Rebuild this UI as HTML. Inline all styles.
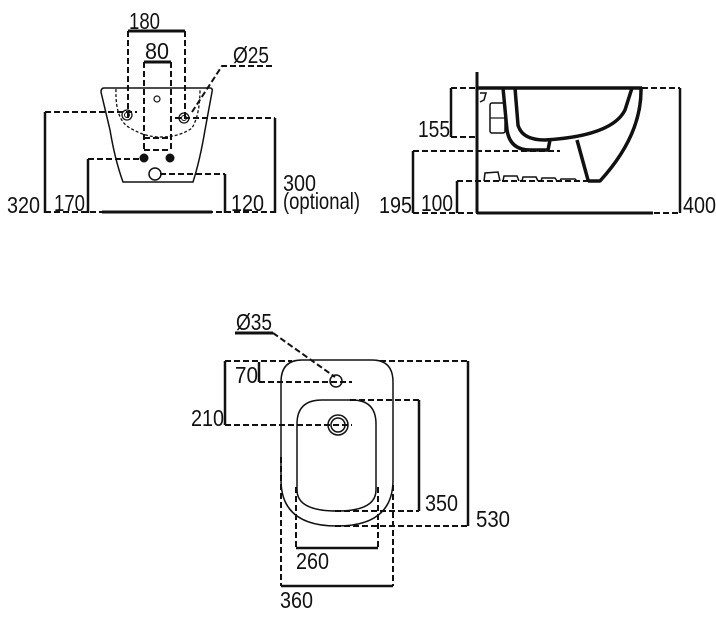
<!DOCTYPE html>
<html><head><meta charset="utf-8"><style>
html,body{margin:0;padding:0;background:#fff;}
svg{display:block;}
text{font-family:"Liberation Sans",sans-serif;font-size:23px;fill:#111;}
</style></head><body>
<svg width="716" height="619" viewBox="0 0 716 619" xmlns="http://www.w3.org/2000/svg">
<g fill="none" stroke="#111">
<!-- FRONT VIEW -->
<g stroke-width="2" stroke-dasharray="6,3">
 <line x1="128" y1="31" x2="128" y2="120"/><line x1="185" y1="31" x2="185" y2="120"/>
 <line x1="144" y1="62" x2="144" y2="150"/><line x1="171" y1="62" x2="171" y2="150"/>
 <line x1="144" y1="138" x2="171" y2="138"/><line x1="144" y1="150" x2="171" y2="150"/>
 <polyline points="272,66 222,66 192,112"/>
 <line x1="45" y1="112" x2="137" y2="112"/>
 <line x1="175" y1="118" x2="275" y2="118"/>
 <line x1="88" y1="159" x2="143" y2="159"/>
 <line x1="160" y1="174" x2="225" y2="174"/>
 <line x1="45" y1="212" x2="275" y2="212"/>
</g>
<path d="M116,89 Q115,120 130,128 Q145,137 160,137 Q180,137 192,128 Q200,115 200,89" stroke-width="1.3" stroke-dasharray="3,2"/>
<line x1="128" y1="31" x2="185" y2="31" stroke-width="3"/>
<line x1="144" y1="62" x2="171" y2="62" stroke-width="3"/>
<path d="M104,88 L210,88 Q213,88 212,92 L205,130 Q200,160 193,182 L123,182 Q115,160 110,130 L101,92 Q101,88 104,88 Z" stroke-width="1.5"/>
<circle cx="127" cy="115" r="5" stroke-width="1.3"/><circle cx="127" cy="115" r="2.5" stroke-width="1"/>
<circle cx="184" cy="118" r="5" stroke-width="1.3"/><circle cx="184" cy="118" r="2.5" stroke-width="1"/>
<circle cx="157" cy="99" r="3" stroke-width="1.2"/>
<circle cx="144" cy="158" r="4" fill="#111"/><circle cx="170" cy="158" r="4" fill="#111"/>
<circle cx="155" cy="174" r="6" stroke-width="1.5"/>
<g stroke-width="2.5">
 <line x1="45" y1="112" x2="45" y2="213"/><line x1="275" y1="118" x2="275" y2="213"/>
 <line x1="88" y1="159" x2="88" y2="213"/><line x1="225" y1="174" x2="225" y2="213"/>
 <line x1="102" y1="212" x2="212" y2="212" stroke-width="3"/>
</g>
<!-- SIDE VIEW -->
<g stroke-width="2" stroke-dasharray="6,3">
 <line x1="451" y1="88" x2="477" y2="88"/><line x1="451" y1="137" x2="477" y2="137"/>
 <line x1="413" y1="151" x2="560" y2="151"/>
 <line x1="457" y1="181" x2="600" y2="181"/>
 <line x1="642" y1="88" x2="680" y2="88"/>
 <line x1="413" y1="213" x2="477" y2="213"/>
 <line x1="600" y1="213" x2="680" y2="213"/>
</g>
<g stroke-width="2.5">
 <line x1="451" y1="88" x2="451" y2="137"/><line x1="413" y1="151" x2="413" y2="213"/>
 <line x1="457" y1="181" x2="457" y2="213"/><line x1="680" y1="88" x2="680" y2="213"/>
 <line x1="477" y1="72" x2="477" y2="213" stroke-width="3"/>
 <line x1="477" y1="213" x2="653" y2="213" stroke-width="3"/>
 <line x1="477" y1="88" x2="642" y2="88" stroke-width="3.5"/>
</g>
<g stroke-width="3.5" stroke-linejoin="round">
 <path d="M515,88 L518,125 Q522,140 545,140 Q612,136 625,110 L632,88"/>
 <path d="M641,88 Q642,135 600,181 L588,181"/>
 <path d="M503,88 L507,130 Q510,150 530,150 L548,150 L550,140"/>
 <path d="M577,140 L588,180"/>
</g>
<rect x="490" y="103" width="15" height="30" rx="2" stroke-width="1.5"/>
<line x1="490" y1="118" x2="505" y2="118" stroke-width="1.2"/>
<path d="M480,93 L486,93 L484,100 L480,102" stroke-width="1.5"/>
<g stroke-width="1.5">
 <path d="M484,181 L485,173 L498,172 L500,181"/><path d="M503,181 L504,176 L517,176 L519,181"/>
 <path d="M522,181 L523,177 L536,177 L538,181"/><path d="M541,181 L542,178 L555,178 L557,181"/>
 <path d="M560,181 L561,179 L575,179 L577,181"/>
</g>
<!-- PLAN VIEW -->
<g stroke-width="2" stroke-dasharray="6,3">
 <line x1="273" y1="333" x2="335" y2="377"/>
 <line x1="259" y1="382" x2="352" y2="382"/>
 <line x1="225" y1="361" x2="292" y2="361"/>
 <line x1="225" y1="425" x2="352" y2="425"/>
 <line x1="380" y1="361" x2="468" y2="361"/>
 <line x1="335" y1="526" x2="468" y2="526"/>
 <line x1="350" y1="400" x2="419" y2="400"/>
 <line x1="335" y1="511" x2="419" y2="511"/>
 <line x1="296" y1="487" x2="296" y2="548"/><line x1="378" y1="487" x2="378" y2="548"/>
 <line x1="281" y1="457" x2="281" y2="586"/><line x1="393" y1="485" x2="393" y2="586"/>
</g>
<g stroke-width="2.5">
 <line x1="235" y1="333" x2="273" y2="333" stroke-width="3"/>
 <line x1="259" y1="362" x2="259" y2="382"/>
 <line x1="225" y1="361" x2="225" y2="425"/>
 <line x1="468" y1="361" x2="468" y2="526"/>
 <line x1="419" y1="400" x2="419" y2="511"/>
 <line x1="296" y1="548" x2="378" y2="548"/>
 <line x1="281" y1="586" x2="393" y2="586"/>
</g>
<path d="M302,360 L372,360 Q393,360 393,382 L393,480 Q393,526 337,526 Q281,526 281,480 L281,382 Q281,360 302,360 Z" stroke-width="1.5"/>
<path d="M322,400 L352,400 Q376,400 376,424 L376,490 Q376,511 337,511 Q297,511 297,490 L297,424 Q297,400 322,400 Z" stroke-width="1.5"/>
<circle cx="336" cy="381" r="6" stroke-width="1.5"/>
<circle cx="338" cy="425" r="10" stroke-width="1.5"/><circle cx="338" cy="425" r="7" stroke-width="1.5"/>
</g>
<!-- texts -->
<g>
<text x="129" y="29" textLength="31" lengthAdjust="spacingAndGlyphs">180</text>
<text x="145" y="59" textLength="24" lengthAdjust="spacingAndGlyphs">80</text>
<text x="233" y="63" textLength="36" lengthAdjust="spacingAndGlyphs">Ø25</text>
<text x="7" y="213" textLength="33" lengthAdjust="spacingAndGlyphs">320</text>
<text x="54" y="211" textLength="31" lengthAdjust="spacingAndGlyphs">170</text>
<text x="231" y="211" textLength="33" lengthAdjust="spacingAndGlyphs">120</text>
<text x="283" y="191" textLength="33" lengthAdjust="spacingAndGlyphs">300</text>
<text x="283" y="209" textLength="77" lengthAdjust="spacingAndGlyphs">(optional)</text>
<text x="418" y="137" textLength="32" lengthAdjust="spacingAndGlyphs">155</text>
<text x="379" y="213" textLength="33" lengthAdjust="spacingAndGlyphs">195</text>
<text x="421" y="211" textLength="32" lengthAdjust="spacingAndGlyphs">100</text>
<text x="683" y="213" textLength="33" lengthAdjust="spacingAndGlyphs">400</text>
<text x="236" y="330" textLength="36" lengthAdjust="spacingAndGlyphs">Ø35</text>
<text x="235" y="383" textLength="23" lengthAdjust="spacingAndGlyphs">70</text>
<text x="191" y="426" textLength="33" lengthAdjust="spacingAndGlyphs">210</text>
<text x="425" y="511" textLength="33" lengthAdjust="spacingAndGlyphs">350</text>
<text x="476" y="527" textLength="34" lengthAdjust="spacingAndGlyphs">530</text>
<text x="296" y="569" textLength="33" lengthAdjust="spacingAndGlyphs">260</text>
<text x="280" y="608" textLength="33" lengthAdjust="spacingAndGlyphs">360</text>
</g>
</svg>
</body></html>
